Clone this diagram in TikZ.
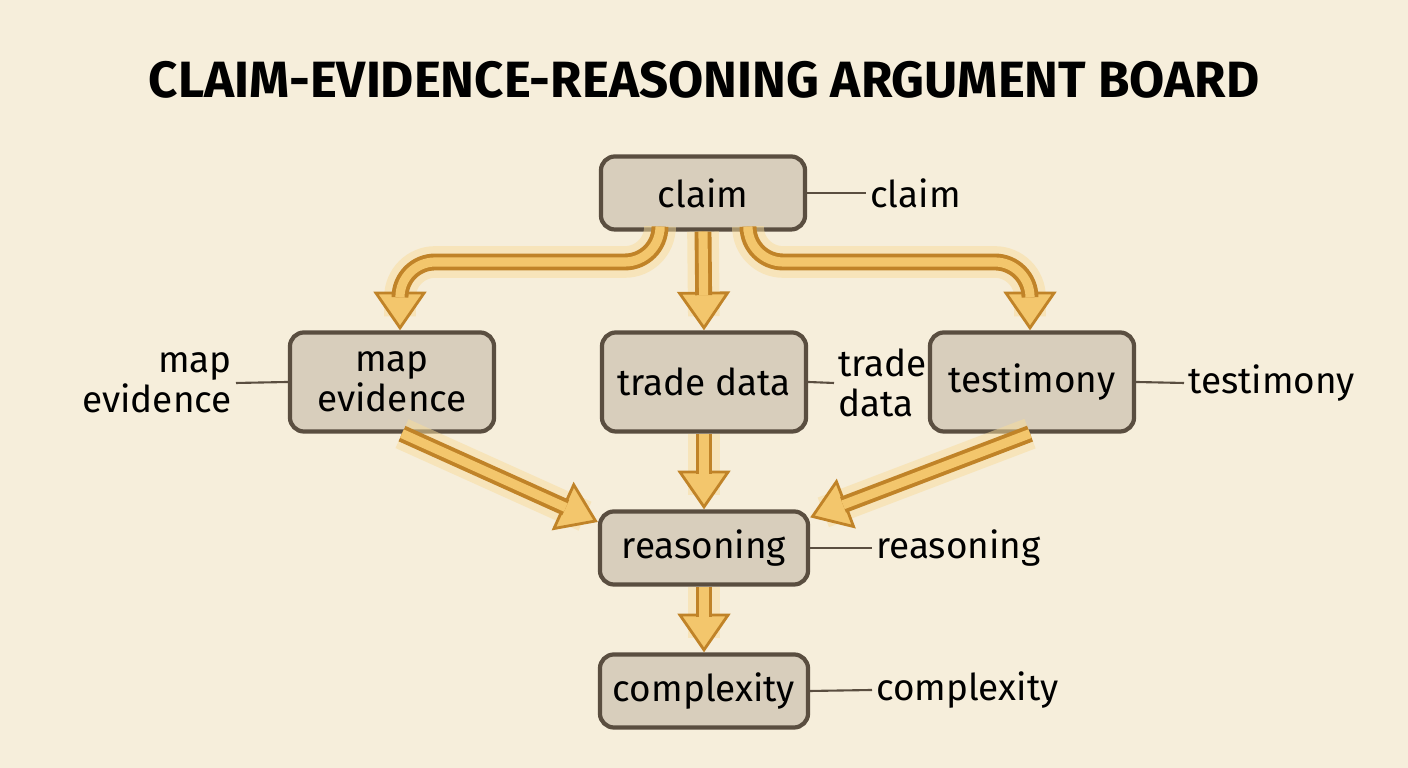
\documentclass[tikz,border=0pt]{standalone}
\usepackage{fontspec}
\setmainfont{Fira Sans}
\usepackage{tikz}
\usetikzlibrary{arrows.meta, positioning}
\definecolor{bgcol}{HTML}{F6EEDB}
\definecolor{boxfill}{HTML}{D8CEBC}
\definecolor{boxline}{HTML}{5A4E40}
\definecolor{arrdark}{HTML}{C08328}
\definecolor{arrlight}{HTML}{F3C66C}
\definecolor{glow}{HTML}{F8DC9A}
\tikzset{
  card/.style={draw=boxline, fill=boxfill, line width=1.2pt, rounded corners=4pt,
    minimum width=2.04cm, minimum height=0.73cm, align=center, font=\fontsize{10.5}{11.5}\selectfont, inner sep=2pt},
  tag/.style={align=left, font=\fontsize{10.5}{11.5}\selectfont, inner sep=1pt},
  lead/.style={draw=boxline, line width=0.6pt},
  halo/.style={draw=glow, line width=9pt, rounded corners=10pt, opacity=0.5, shorten >=4pt},
  tipline/.style={draw=arrdark, line width=0.8pt, rounded corners=10pt,
    -{Triangle[length=11pt, width=15pt, fill=arrlight]}},
  shaft/.style={draw=arrdark, double=arrlight, double distance=2.6pt, line width=1.1pt,
    rounded corners=10pt, shorten >=10pt},
}
\newcommand{\flow}[1]{\draw[halo] #1; \draw[tipline] #1; \draw[shaft] #1;}
\begin{document}
\begin{tikzpicture}[x=0.01cm, y=-0.01cm]
\fill[bgcol] (0,0) rectangle (1408,768);
\useasboundingbox (0,0) rectangle (1408,768);
\node[font=\bfseries\fontsize{14.5}{17}\selectfont] (title) at (704,80) {CLAIM-EVIDENCE-REASONING ARGUMENT BOARD};
% boxes
\node[card] (claim) at (703,193) {claim};
\node[card, minimum height=0.99cm] (mapev) at (392,382) {map\\evidence};
\node[card, minimum height=0.99cm] (trade) at (704,382) {trade data};
\node[card, minimum height=0.99cm] (testim) at (1032,382) {testimony};
\node[card, minimum width=2.08cm] (reason) at (704,548) {reasoning};
\node[card, minimum width=2.08cm] (complex) at (704,691) {complexity};
% side labels
\node[tag, anchor=east, align=right] (lmap) at (236,383) {map\\evidence};
\node[tag, anchor=west] (lclaim) at (866,193) {claim};
\node[tag, anchor=west] (ltrade) at (834,383) {trade\\data};
\node[tag, anchor=west] (ltestim) at (1184,383) {testimony};
\node[tag, anchor=west] (lreason) at (872,548) {reasoning};
\node[tag, anchor=west] (lcomplex) at (872,690) {complexity};
\draw[lead] (claim.east) -- (lclaim.west);
\draw[lead] (mapev.west) -- (lmap.east);
\draw[lead] (trade.east) -- (ltrade.west);
\draw[lead] (testim.east) -- (ltestim.west);
\draw[lead] (reason.east) -- (lreason.west);
\draw[lead] (complex.east) -- (lcomplex.west);
% arrows
\flow{([xshift=-0.43cm]claim.south) |- (400,262) -- ([xshift=0.08cm]mapev.north)}
\flow{(claim.south) -- (trade.north)}
\flow{([xshift=0.45cm]claim.south) |- (1030,262) -- ([xshift=-0.02cm]testim.north)}
\flow{([xshift=0.1cm]mapev.south) -- (reason.west |- 522,522)}
\flow{(trade.south) -- (reason.north)}
\flow{([xshift=-0.02cm]testim.south) -- ([yshift=-0.08cm]reason.north east)}
\flow{(reason.south) -- (complex.north)}
\end{tikzpicture}
\end{document}
